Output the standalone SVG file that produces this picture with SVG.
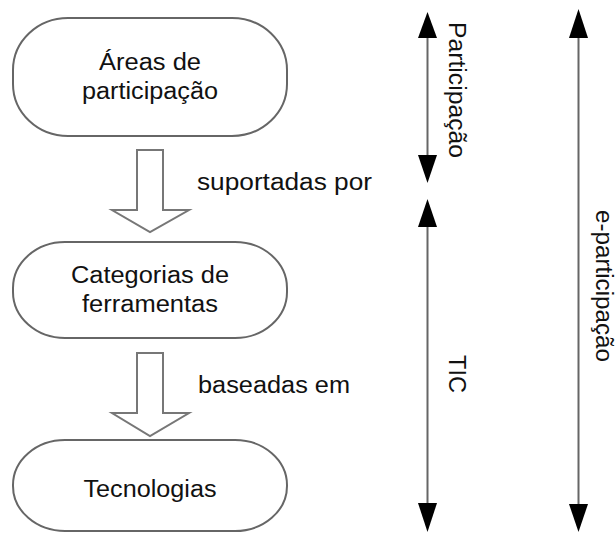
<svg xmlns="http://www.w3.org/2000/svg" width="616" height="533" viewBox="0 0 616 533">
<defs>
<style>
.node{fill:#fff;stroke:#666;stroke-width:2}
.blk{fill:#fff;stroke:#777;stroke-width:2;stroke-linejoin:miter}
.t{font-family:"Liberation Sans",Arial,sans-serif;font-size:23px;fill:#111;text-anchor:middle}
.l{font-family:"Liberation Sans",Arial,sans-serif;font-size:23px;fill:#111}
.ln{stroke:#666;stroke-width:2;fill:none}
.hd{fill:#000}
</style>
</defs>
<rect width="616" height="533" fill="#fff"/>
<g id="areas">
<rect class="node" x="13" y="18" width="274" height="118" rx="55" ry="52"/>
<text class="t" x="150" y="70" textLength="102" lengthAdjust="spacingAndGlyphs">Áreas de</text>
<text class="t" x="150" y="99" textLength="136" lengthAdjust="spacingAndGlyphs">participação</text>
</g>
<g id="categorias">
<rect class="node" x="13" y="242" width="274" height="96" rx="52" ry="46"/>
<text class="t" x="150" y="283" textLength="158" lengthAdjust="spacingAndGlyphs">Categorias de</text>
<text class="t" x="150" y="312" textLength="136" lengthAdjust="spacingAndGlyphs">ferramentas</text>
</g>
<g id="tecnologias">
<rect class="node" x="13" y="440" width="274" height="91" rx="52" ry="45"/>
<text class="t" x="150" y="497" textLength="133" lengthAdjust="spacingAndGlyphs">Tecnologias</text>
</g>
<g id="connectors">
<path class="blk" d="M137 150 H163 V210 H189 L150 232 L112 210 H137 Z"/>
<text class="l" x="197" y="190" textLength="175" lengthAdjust="spacingAndGlyphs">suportadas por</text>
<path class="blk" d="M137 353 H163 V413 H189 L150 436 L112 413 H137 Z"/>
<text class="l" x="198" y="393" textLength="152" lengthAdjust="spacingAndGlyphs">baseadas em</text>
<g id="participacao-range">
<line class="ln" x1="427.5" y1="36" x2="427.5" y2="157"/>
<polygon class="hd" points="427.5,12 437,38 418,38"/>
<polygon class="hd" points="427.5,183 437,155 418,155"/>
<text class="l" transform="translate(449,90) rotate(90)" text-anchor="middle" textLength="136" lengthAdjust="spacingAndGlyphs">Participação</text>
</g>
<g id="tic-range">
<line class="ln" x1="427.5" y1="225" x2="427.5" y2="505"/>
<polygon class="hd" points="427.5,199 437,227 418,227"/>
<polygon class="hd" points="427.5,532 437,503 418,503"/>
<text class="l" transform="translate(449,374) rotate(90)" text-anchor="middle" textLength="38" lengthAdjust="spacingAndGlyphs">TIC</text>
</g>
<g id="eparticipacao-range">
<line class="ln" x1="578.5" y1="36" x2="578.5" y2="506"/>
<polygon class="hd" points="578.5,9 588,38 569,38"/>
<polygon class="hd" points="578.5,532 588,504 569,504"/>
<text class="l" transform="translate(596,286) rotate(90)" text-anchor="middle" textLength="152" lengthAdjust="spacingAndGlyphs">e-participação</text>
</g>
</g>
</svg>
